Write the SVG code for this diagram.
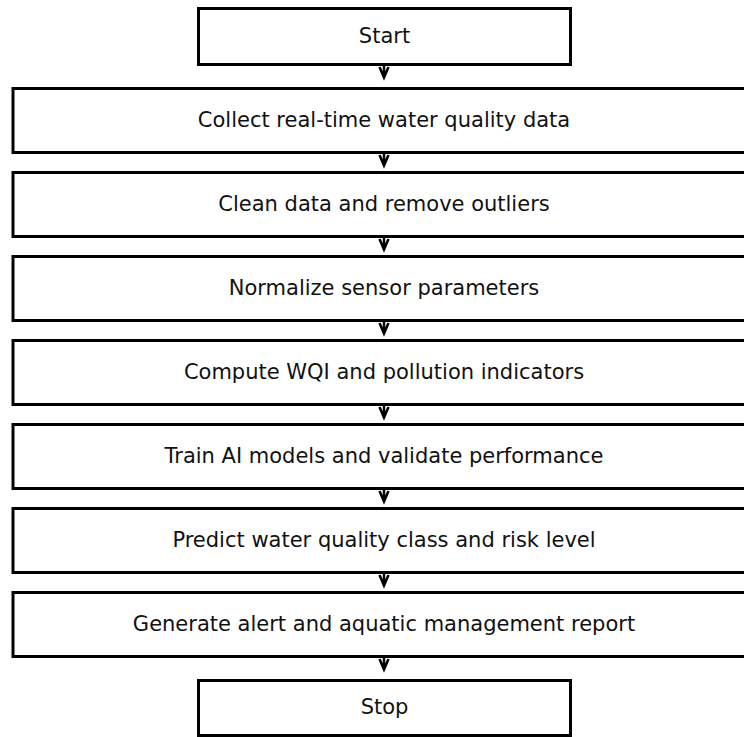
<svg xmlns="http://www.w3.org/2000/svg" width="744" height="737" viewBox="0 0 744 737">
<style>
.box{fill:#fff;stroke:#000;stroke-width:3}
.lbl{font-family:"DejaVu Sans",sans-serif;font-size:21px;fill:#111;text-anchor:middle;dominant-baseline:central}
.conn path{fill:none;stroke:#000;stroke-width:2.5;stroke-linejoin:miter}
</style>
<rect width="744" height="737" fill="#fff"/>
<g id="start"><rect class="box" x="198.5" y="8.5" width="372" height="56"/><text class="lbl" x="384.5" y="36">Start</text></g>
<g id="n1"><rect class="box" x="13" y="88.5" width="742" height="64"/><text class="lbl" x="384" y="119.5">Collect real-time water quality data</text></g>
<g id="n2"><rect class="box" x="13" y="172.5" width="742" height="64"/><text class="lbl" x="384" y="203.5">Clean data and remove outliers</text></g>
<g id="n3"><rect class="box" x="13" y="256.5" width="742" height="64"/><text class="lbl" x="384" y="287.5">Normalize sensor parameters</text></g>
<g id="n4"><rect class="box" x="13" y="340.5" width="742" height="64"/><text class="lbl" x="384" y="371.5">Compute WQI and pollution indicators</text></g>
<g id="n5"><rect class="box" x="13" y="424.5" width="742" height="64"/><text class="lbl" x="384" y="455.5">Train AI models and validate performance</text></g>
<g id="n6"><rect class="box" x="13" y="508.5" width="742" height="64"/><text class="lbl" x="384" y="539.5">Predict water quality class and risk level</text></g>
<g id="n7"><rect class="box" x="13" y="592.5" width="742" height="64"/><text class="lbl" x="384" y="623.5">Generate alert and aquatic management report</text></g>
<g id="stop"><rect class="box" x="198.5" y="680.5" width="372" height="55"/><text class="lbl" x="384.5" y="707">Stop</text></g>
<g id="connectors" class="conn">
<path d="M384,65 V77 M379.5,67 L384,77.5 L388.5,67"/>
<path d="M384,153 V165 M379.5,155 L384,165.5 L388.5,155"/>
<path d="M384,237 V249 M379.5,239 L384,249.5 L388.5,239"/>
<path d="M384,321 V333 M379.5,323 L384,333.5 L388.5,323"/>
<path d="M384,405 V417 M379.5,407 L384,417.5 L388.5,407"/>
<path d="M384,489 V501 M379.5,491 L384,501.5 L388.5,491"/>
<path d="M384,573 V585 M379.5,575 L384,585.5 L388.5,575"/>
<path d="M384,657 V669 M379.5,659 L384,669.5 L388.5,659"/>
</g>
</svg>
